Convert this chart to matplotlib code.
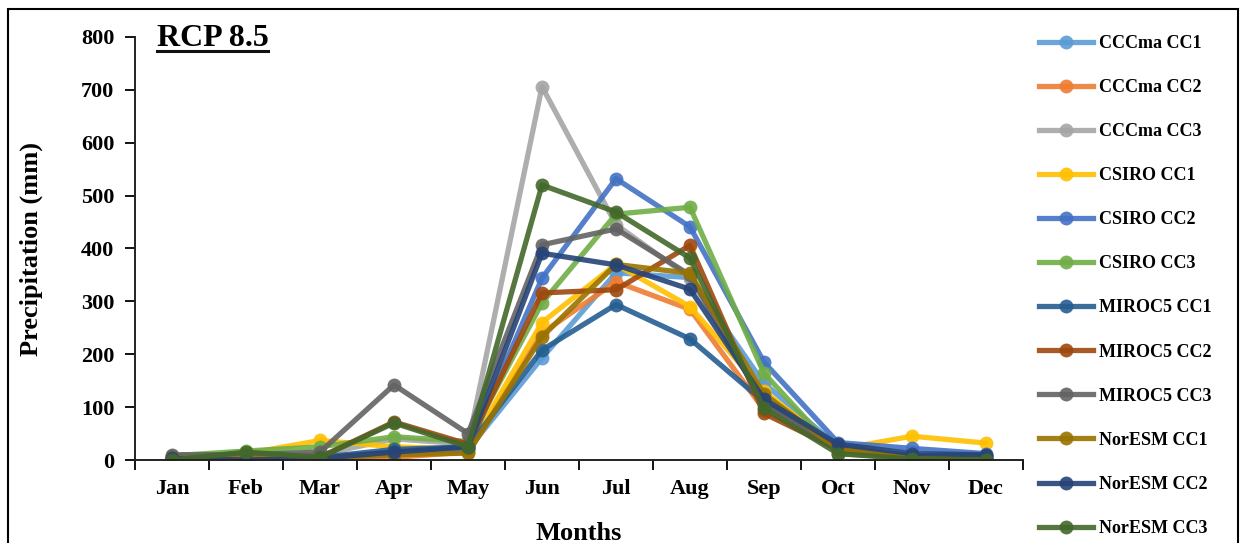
import matplotlib
matplotlib.use("Agg")
import matplotlib.pyplot as plt
from matplotlib.patches import Rectangle
from matplotlib.lines import Line2D

months = ["Jan", "Feb", "Mar", "Apr", "May", "Jun",
          "Jul", "Aug", "Sep", "Oct", "Nov", "Dec"]

series_names = ["CCCma CC1", "CCCma CC2", "CCCma CC3",
                "CSIRO CC1", "CSIRO CC2", "CSIRO CC3",
                "MIROC5 CC1", "MIROC5 CC2", "MIROC5 CC3",
                "NorESM CC1", "NorESM CC2", "NorESM CC3"]

cccma_cc1 = [5, 5, 5, 8, 20, 193, 354, 345, 145, 25, 8, 5]
cccma_cc2 = [3, 3, 3, 5, 15, 240, 337, 285, 95, 20, 3, 3]
cccma_cc3 = [5, 8, 10, 40, 30, 706, 445, 345, 110, 20, 5, 3]
csiro_cc1 = [5, 12, 37, 25, 20, 260, 370, 290, 130, 20, 45, 32]
csiro_cc2 = [3, 3, 5, 15, 20, 344, 532, 441, 185, 33, 22, 12]
csiro_cc3 = [8, 17, 25, 44, 35, 297, 465, 478, 164, 12, 5, 3]
miroc5_cc1 = [3, 3, 5, 20, 25, 208, 294, 229, 110, 25, 8, 8]
miroc5_cc2 = [3, 5, 5, 72, 30, 316, 322, 406, 88, 20, 2, 2]
miroc5_cc3 = [10, 10, 15, 142, 50, 407, 437, 350, 105, 25, 5, 3]
noresm_cc1 = [3, 3, 3, 10, 13, 233, 370, 353, 125, 20, 5, 3]
noresm_cc2 = [3, 0, 3, 15, 25, 391, 369, 323, 115, 30, 12, 10]
noresm_cc3 = [0, 15, 5, 70, 25, 520, 469, 382, 98, 12, 2, 0]

series_values = [cccma_cc1, cccma_cc2, cccma_cc3,
                 csiro_cc1, csiro_cc2, csiro_cc3,
                 miroc5_cc1, miroc5_cc2, miroc5_cc3,
                 noresm_cc1, noresm_cc2, noresm_cc3]

colors = ["#5B9BD5", "#ED7D31", "#A5A5A5", "#FFC000", "#4472C4", "#70AD47",
          "#255E91", "#9E480E", "#636363", "#997300", "#264478", "#43682B"]

y_ticks = [0, 100, 200, 300, 400, 500, 600, 700, 800]

plt.rcParams["font.family"] = ["Liberation Serif", "DejaVu Serif"]
plt.rcParams["font.weight"] = "bold"

fig = plt.figure(figsize=(12.44, 5.43), dpi=100)
ax = fig.add_axes([135 / 1244, 1 - 460 / 543, (1023 - 135) / 1244, (460 - 37) / 543])

x = list(range(len(months)))
for name, vals, col in zip(series_names, series_values, colors):
    ax.plot(x, vals, color=col, lw=3.8, marker="o", ms=10,
            markeredgewidth=0, alpha=0.9, label=name,
            solid_joinstyle="round", solid_capstyle="round")

ax.set_xlim(-0.5, len(months) - 0.5)
ax.set_ylim(0, 800)
ax.set_yticks(y_ticks)
ax.set_yticklabels([str(v) for v in y_ticks], fontsize=16, fontweight="bold")
ax.set_xticks(x)
ax.set_xticklabels(months, fontsize=16, fontweight="bold")
ax.set_xticks([i - 0.5 for i in range(len(months) + 1)], minor=True)
ax.tick_params(axis="x", which="major", length=0, pad=14)
ax.tick_params(axis="x", which="minor", length=7, width=1.3, direction="out")
ax.tick_params(axis="y", which="major", length=7, width=1.3, direction="out", pad=8)

for side in ["top", "right"]:
    ax.spines[side].set_visible(False)
for side in ["left", "bottom"]:
    ax.spines[side].set_linewidth(1.4)
    ax.spines[side].set_color("#222222")
ax.patch.set_alpha(0)

ax.set_ylabel("Precipitation (mm)", fontsize=19, fontweight="bold", labelpad=27)
ax.set_xlabel("Months", fontsize=19, fontweight="bold", labelpad=16)

# Scenario title, underlined
fig.text(157 / 1244, 1 - 38 / 543, "RCP 8.5", fontsize=23, fontweight="bold",
         ha="left", va="center")
fig.add_artist(Line2D([157 / 1244, 268 / 1244], [1 - 51 / 543, 1 - 51 / 543],
                      color="#111111", lw=2.2))

leg_handles = [Line2D([0], [0], color=c, lw=3.8, marker="o", ms=10,
                      markeredgewidth=0, alpha=0.9) for c in colors]
fig.legend(leg_handles, series_names, loc="upper left",
           bbox_to_anchor=(1039 / 1244, 1 - 35 / 543), frameon=False,
           handlelength=3.0, handletextpad=0.3,
           labelspacing=1.5, borderaxespad=0, borderpad=0,
           prop={"weight": "bold", "size": 13})

# Outer frame around the figure
fig.add_artist(Rectangle((8 / 1244, -0.05), (1238 - 8) / 1244, 1 - 9 / 543 + 0.05,
                         transform=fig.transFigure, fill=False,
                         edgecolor="black", lw=1.5))

fig.savefig("out.png", dpi=100)
